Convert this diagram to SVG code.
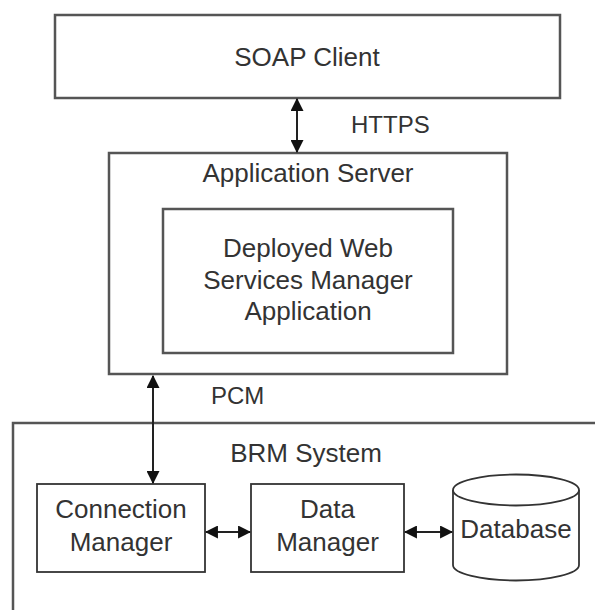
<svg xmlns="http://www.w3.org/2000/svg" width="595" height="610" viewBox="0 0 595 610">
<style>
.box{fill:#fff;stroke:#555;stroke-width:2.5}
.ibox{fill:#fff;stroke:#333;stroke-width:1.8}
.t{font-family:"Liberation Sans",Arial,sans-serif;font-size:26px;fill:#333;text-anchor:middle}
.lbl{font-family:"Liberation Sans",Arial,sans-serif;font-size:24px;fill:#333}
.c{stroke:#222;stroke-width:2;fill:none;marker-start:url(#ah);marker-end:url(#ah)}
</style>
<defs>
<marker id="ah" viewBox="0 0 12 12" refX="11" refY="6" markerWidth="13" markerHeight="13" markerUnits="userSpaceOnUse" orient="auto-start-reverse">
<path d="M0,0 L12,6 L0,12 z" fill="#111"/>
</marker>
</defs>
<g id="brm-system">
<path class="box" d="M13,612 V423 H597" fill="none"/>
<text class="t" x="306" y="462">BRM System</text>
</g>
<g id="soap-client">
<rect class="box" x="55" y="15" width="505" height="83"/>
<text class="t" x="307" y="66">SOAP Client</text>
</g>
<g id="app-server">
<rect class="box" x="109" y="153" width="398" height="221"/>
<text class="t" x="308" y="182">Application Server</text>
</g>
<g id="wsm-app">
<rect class="box" x="163" y="209" width="290" height="144"/>
<text class="t" x="308" y="257">Deployed Web</text>
<text class="t" x="308" y="289">Services Manager</text>
<text class="t" x="308" y="320">Application</text>
</g>
<g id="connection-manager">
<rect class="ibox" x="37" y="484" width="168" height="88"/>
<text class="t" x="121" y="518">Connection</text>
<text class="t" x="121" y="551">Manager</text>
</g>
<g id="data-manager">
<rect class="ibox" x="251" y="484" width="153" height="88"/>
<text class="t" x="327.5" y="518">Data</text>
<text class="t" x="327.5" y="551">Manager</text>
</g>
<g id="database">
<path class="ibox" d="M453,490 V565 A63,15.5 0 0 0 579,565 V490"/>
<ellipse class="ibox" cx="516" cy="490" rx="63" ry="15.5"/>
<text class="t" x="516" y="538">Database</text>
</g>
<g id="connectors">
<line class="c" x1="297" y1="99" x2="297" y2="152"/>
<text class="lbl" x="351" y="133">HTTPS</text>
<line class="c" x1="153" y1="376" x2="153" y2="483"/>
<text class="lbl" x="211" y="404">PCM</text>
<line class="c" x1="206" y1="532" x2="250" y2="532"/>
<line class="c" x1="405" y1="532" x2="452" y2="532"/>
</g>
</svg>
